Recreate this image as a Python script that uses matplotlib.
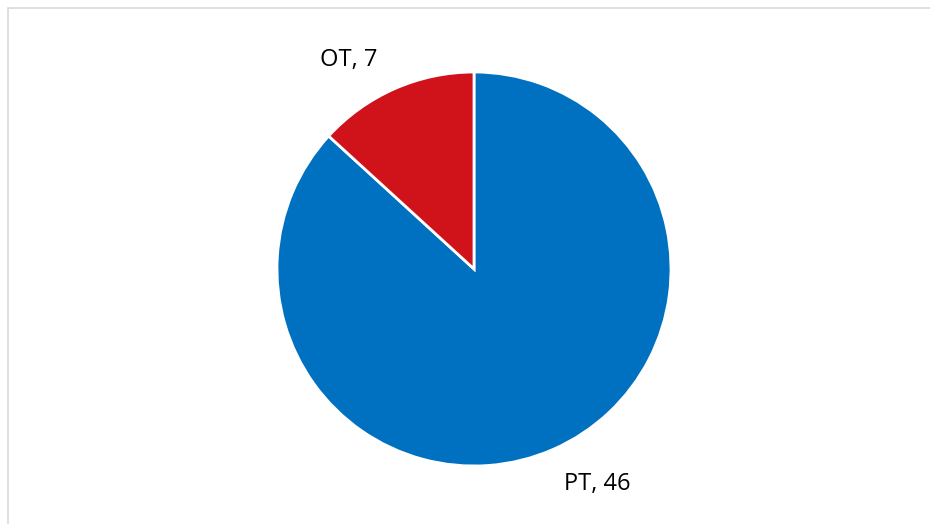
import matplotlib.pyplot as plt
from matplotlib.patches import Rectangle

labels = ['PT', 'OT']
values = [46, 7]
colors = ['#0070C0', '#D0121B']

fig = plt.figure(figsize=(9.3, 5.24), dpi=100)

# light grey chart frame (right and bottom edges fall outside the image)
fig.patches.append(Rectangle((8 / 930, -0.05), 1.1, 1 - 8 / 524 + 0.05,
                             transform=fig.transFigure, fill=False,
                             edgecolor='#D9D9D9', linewidth=1.2))

ax = fig.add_axes([277 / 930, 58 / 524, 394 / 930, 394 / 524])
ax.pie(values, colors=colors, startangle=90, counterclock=False, radius=1,
       wedgeprops=dict(edgecolor='white', linewidth=2))
ax.set_xlim(-1, 1)
ax.set_ylim(-1, 1)
ax.set_aspect('equal')
ax.axis('off')

label_pos = {'PT': (0.624, -1.091), 'OT': (-0.635, 1.061)}
for name, val in zip(labels, values):
    x, y = label_pos[name]
    ax.text(x, y, f'{name}, {val}', ha='center', va='center', fontsize=17,
            family='Open Sans', color='black')

plt.savefig('out.png', dpi=100)
